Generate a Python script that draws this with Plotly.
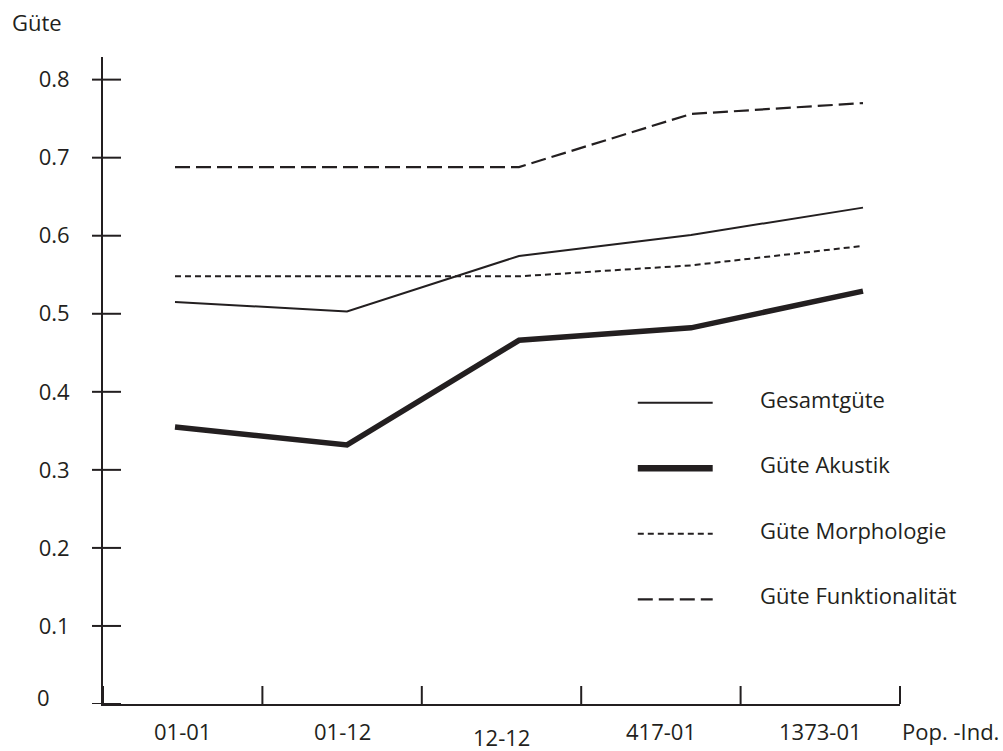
import plotly.graph_objects as go

# Populationen / Individuen (Kategorien auf der x-Achse)
categories = ["01-01", "01-12", "12-12", "417-01", "1373-01"]

# Güte-Werte je Kategorie
gesamtguete = [0.515, 0.503, 0.574, 0.601, 0.636]
guete_akustik = [0.355, 0.332, 0.466, 0.482, 0.529]
guete_morphologie = [0.548, 0.548, 0.548, 0.562, 0.587]
guete_funktionalitaet = [0.688, 0.688, 0.688, 0.756, 0.770]

series_names = ["Gesamtgüte", "Güte Akustik", "Güte Morphologie", "Güte Funktionalität"]

y_ticks = [0, 0.1, 0.2, 0.3, 0.4, 0.5, 0.6, 0.7, 0.8]
y_tick_labels = ["", "0.1", "0.2", "0.3", "0.4", "0.5", "0.6", "0.7", "0.8"]

INK = "#231f20"
FONT = "Open Sans"
FS = 22

styles = [
    dict(width=2, dash="solid"),
    dict(width=5.5, dash="solid"),
    dict(width=2, dash="6px,4px"),
    dict(width=2.2, dash="15px,6px"),
]
legend_styles = [
    dict(width=2, dash="solid"),
    dict(width=6.5, dash="solid"),
    dict(width=2, dash="6px,4px"),
    dict(width=2.2, dash="15px,6px"),
]

series = [gesamtguete, guete_akustik, guete_morphologie, guete_funktionalitaet]
x_idx = list(range(len(categories)))

fig = go.Figure()
for name, vals, st in zip(series_names, series, styles):
    fig.add_trace(go.Scatter(
        x=x_idx, y=vals, mode="lines", name=name,
        line=dict(color=INK, width=st["width"], dash=st["dash"]),
        showlegend=False, hoverinfo="x+y+name",
    ))

n = len(categories)
shapes = []
annotations = []

# y-Achsen-Striche (kreuzen die Achse)
for v in y_ticks:
    shapes.append(dict(type="line", xref="paper", yref="y", xsizemode="pixel", xanchor=0,
                       x0=-11, x1=18, y0=v, y1=v, line=dict(color=INK, width=2)))
# Kategoriegrenzen auf der x-Achse
for k in range(n + 1):
    shapes.append(dict(type="line", xref="paper", yref="y", ysizemode="pixel", yanchor=0,
                       x0=k / n, x1=k / n, y0=-11, y1=18, line=dict(color=INK, width=2)))

# Kategoriebeschriftungen mittig zwischen den Grenzen
for k, cat in enumerate(categories):
    annotations.append(dict(text=cat, xref="paper", yref="paper", x=(k + 0.5) / n, y=0,
                            xanchor="center", yanchor="middle",
                            yshift=-33 if cat == "12-12" else -27,
                            showarrow=False, font=dict(family=FONT, size=FS, color=INK)))

annotations += [
    dict(text="Pop. -Ind.", xref="paper", yref="paper", x=1, y=0, xanchor="left",
         yanchor="middle", xshift=0, yshift=-27, showarrow=False,
         font=dict(family=FONT, size=FS, color=INK)),
    dict(text="Güte", xref="paper", yref="paper", x=0, y=1, xanchor="left",
         yanchor="middle", xshift=-93, yshift=35, showarrow=False,
         font=dict(family=FONT, size=FS, color=INK)),
    dict(text="0", xref="paper", yref="y", x=0, y=0, xanchor="right",
         yanchor="middle", xshift=-51, yshift=7, showarrow=False,
         font=dict(family=FONT, size=FS, color=INK)),
]

# Legende: Linienmuster und Beschriftung
leg_x0, leg_x1, leg_text_x = 0.671, 0.765, 0.822
leg_y0, leg_dy = 0.386, 0.084
for i, (name, st) in enumerate(zip(series_names, legend_styles)):
    yy = leg_y0 - i * leg_dy
    shapes.append(dict(type="line", xref="paper", yref="y", x0=leg_x0, x1=leg_x1,
                       y0=yy, y1=yy,
                       line=dict(color=INK, width=st["width"], dash=st["dash"])))
    annotations.append(dict(text=name, xref="paper", yref="y", x=leg_text_x, y=yy,
                            xanchor="left", yanchor="middle", yshift=4, showarrow=False,
                            font=dict(family=FONT, size=FS, color=INK)))

fig.update_layout(
    width=1003, height=751,
    margin=dict(l=103, r=103, t=57, b=47),
    paper_bgcolor="white", plot_bgcolor="white",
    font=dict(family=FONT, size=FS, color=INK),
    shapes=shapes, annotations=annotations,
    xaxis=dict(range=[-0.4186, 4.2151], showgrid=False, zeroline=False,
               showline=True, linecolor=INK, linewidth=2,
               ticks="", showticklabels=False, fixedrange=True),
    yaxis=dict(range=[0, 0.829], showgrid=False, zeroline=False,
               showline=True, linecolor=INK, linewidth=2,
               tickvals=y_ticks, ticktext=y_tick_labels, ticks="",
               ticklabelstandoff=27, tickfont=dict(family=FONT, size=FS, color=INK),
               fixedrange=True),
)

fig.write_html("out.html")
